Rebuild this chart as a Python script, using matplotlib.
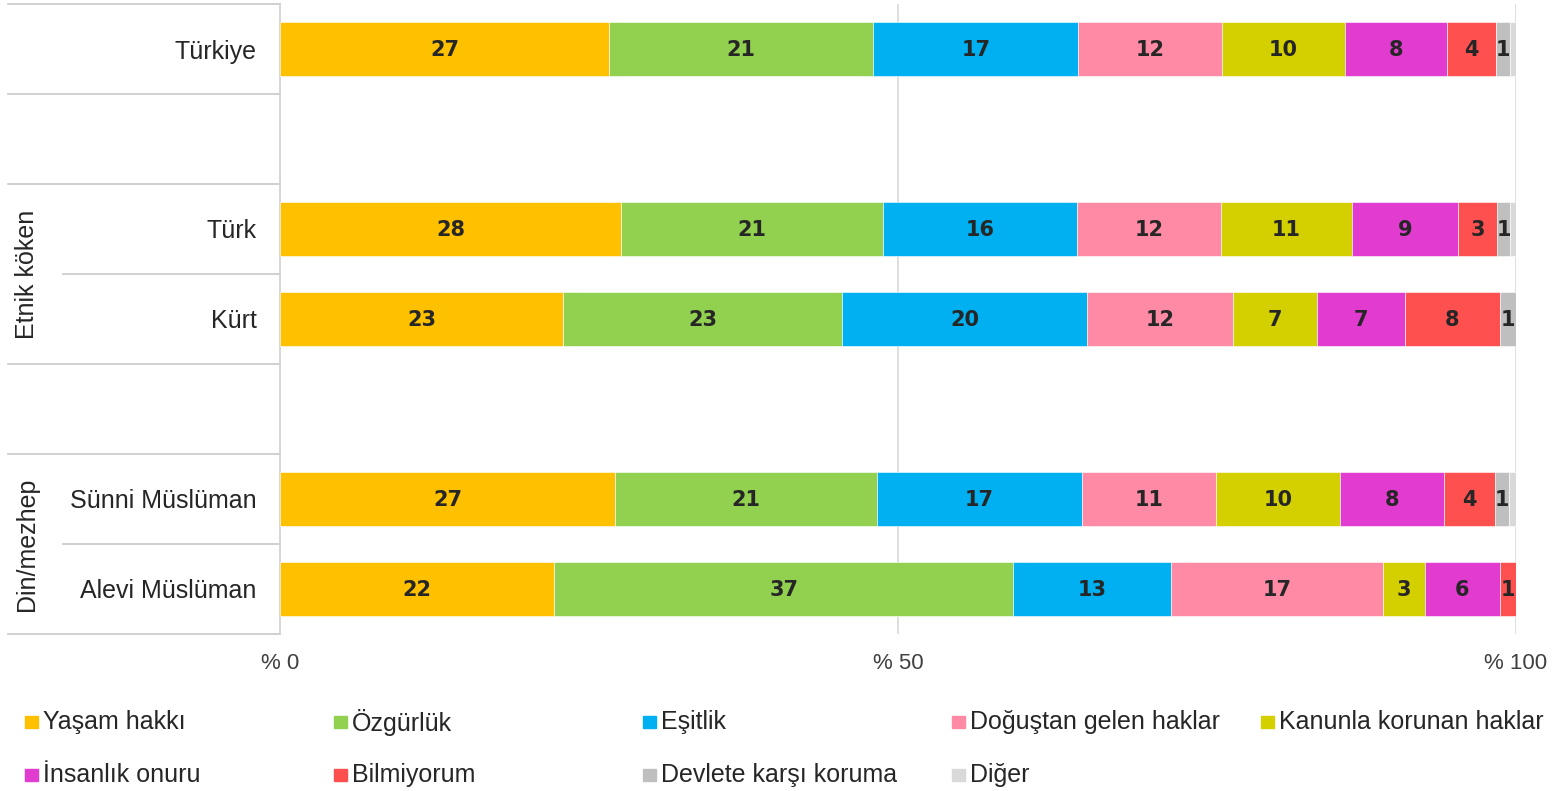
import matplotlib
matplotlib.use("Agg")
import matplotlib.pyplot as plt
from matplotlib.patches import Rectangle
from matplotlib.transforms import blended_transform_factory

# rows from top to bottom, '' = empty spacer slot
rows = ['Türkiye', '', 'Türk', 'Kürt', '', 'Sünni Müslüman', 'Alevi Müslüman']
groups = ['Etnik köken', 'Din/mezhep']
group_centers = [2.5, 5.5]

categories = ['Yaşam hakkı', 'Özgürlük', 'Eşitlik', 'Doğuştan gelen haklar',
              'Kanunla korunan haklar', 'İnsanlık onuru', 'Bilmiyorum',
              'Devlete karşı koruma', 'Diğer']
colors = ['#FFC000', '#92D050', '#00B0F0', '#FF8AA5', '#D4D000',
          '#E13BD0', '#FF5050', '#BFBFBF', '#D9D9D9']

# values per row (percent), one per category
values = {
    'Türkiye':        [26.6, 21.4, 16.6, 11.6, 10.0, 8.2, 4.0, 1.1, 0.5],
    'Türk':           [27.6, 21.2, 15.7, 11.6, 10.6, 8.6, 3.2, 1.0, 0.5],
    'Kürt':           [22.9, 22.6, 19.8, 11.8, 6.8, 7.1, 7.7, 1.3, 0.0],
    'Sünni Müslüman': [27.1, 21.2, 16.6, 10.8, 10.1, 8.4, 4.1, 1.1, 0.6],
    'Alevi Müslüman': [22.2, 37.1, 12.8, 17.1, 3.4, 6.1, 1.3, 0.0, 0.0],
}
xticks = [0, 50, 100]
xticklabels = ['% 0', '% 50', '% 100']

SANS = ['Liberation Sans', 'DejaVu Sans']

W, H = 1552, 791
fig = plt.figure(figsize=(W / 100, H / 100), dpi=100)
ax = fig.add_axes([280 / W, 1 - 634 / H, 1236 / W, 630 / H])

for yi, name in enumerate(rows):
    if name == '':
        continue
    left = 0
    for v, c in zip(values[name], colors):
        if v > 0:
            ax.barh(yi, v, left=left, height=0.59, color=c, edgecolor='white', linewidth=0.4, zorder=3)
            if v >= 1.0:
                ax.text(left + v / 2, yi + 0.01, f'{v:.0f}', ha='center', va='center',
                        fontsize=15, fontweight='heavy', color='#262626',
                        family='DejaVu Sans', zorder=4)
        left += v

ax.set_xlim(0, 100)
ax.set_ylim(len(rows) - 0.5, -0.5)
for s in ['top', 'right', 'bottom']:
    ax.spines[s].set_visible(False)
ax.spines['left'].set_color('#D0D0D0')
ax.spines['left'].set_linewidth(1.2)
for x in [50, 100]:
    ax.axvline(x, color='#D9D9D9', linewidth=1.2, zorder=1)

ax.set_xticks(xticks)
ax.set_xticklabels(xticklabels, fontsize=16, color='#404040', family=SANS)
ax.tick_params(axis='x', length=0, pad=14)
ax.set_yticks(range(len(rows)))
ax.set_yticklabels(rows, fontsize=18, color='#262626', family=SANS)
ax.tick_params(axis='y', length=0, pad=17)

# category table lines on the left
tr = blended_transform_factory(ax.transAxes, ax.transData)
outer = (8 - 280) / 1236
inner = (63 - 280) / 1236
for yb in [-0.5, 0.5, 1.5, 2.5, 3.5, 4.5, 5.5, 6.5]:
    x0 = inner if yb in (2.5, 5.5) else outer
    ax.plot([x0, 0], [yb, yb], color='#C8C8C8', linewidth=1.2, transform=tr, clip_on=False)

for g, yc in zip(groups, group_centers):
    ax.text((27 - 280) / 1236, yc, g, rotation=90, ha='center', va='center', transform=tr,
            fontsize=18, color='#262626', family=SANS)

# legend, row-major, 5 columns
col_x = [25, 334, 643, 952, 1261]
row_y = [722, 775]
for i, (cat, c) in enumerate(zip(categories, colors)):
    r, k = divmod(i, 5)
    x, y = col_x[k], row_y[r]
    fig.patches.append(Rectangle((x / W, 1 - (y + 6) / H), 13 / W, 12 / H,
                                 transform=fig.transFigure, color=c))
    fig.text((x + 18) / W, 1 - y / H, cat, ha='left', va='center', fontsize=18,
             color='#262626', family=SANS)

fig.savefig('out.png', dpi=100)
